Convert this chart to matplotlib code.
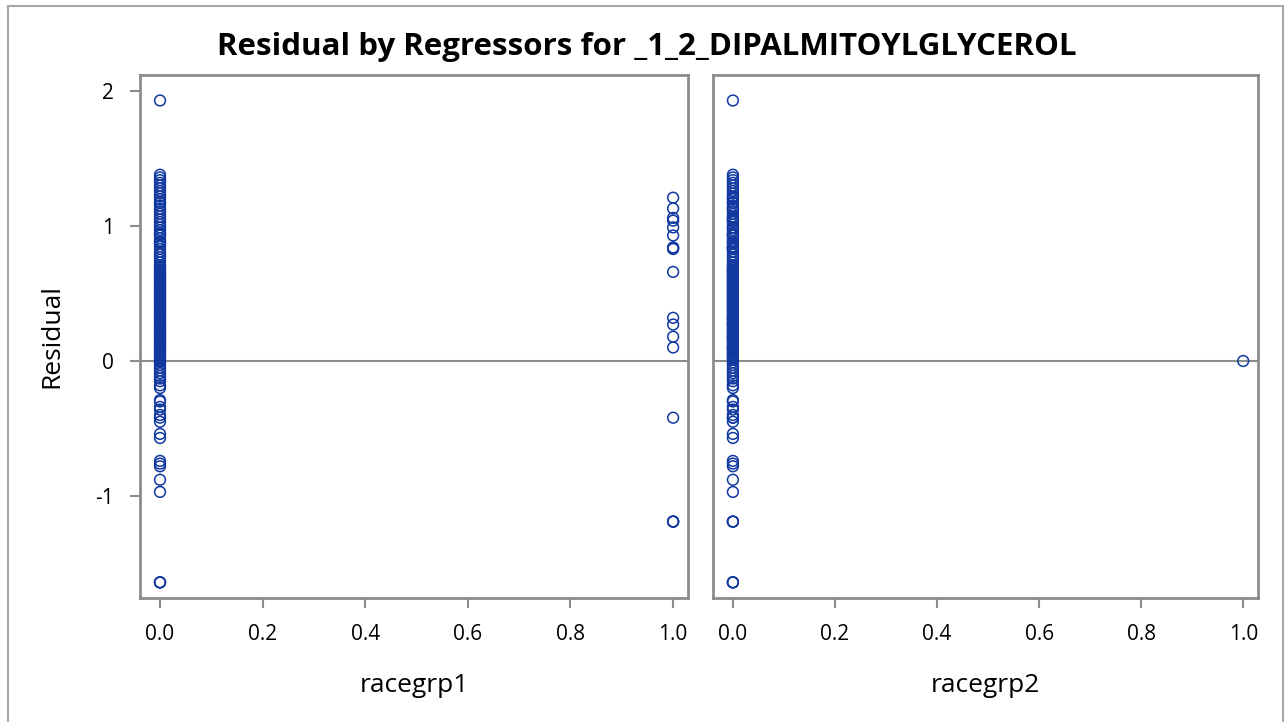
import matplotlib.pyplot as plt
from matplotlib.patches import Rectangle

plt.rcParams['font.family'] = ['Open Sans', 'DejaVu Sans']

# residuals where racegrp1 = 0 and racegrp2 = 0
resid_base = [1.93, 1.38, 1.36, 1.34, 1.32, 1.30, 1.28, 1.26, 1.24, 1.22, 1.20, 1.18,
              1.17, 1.15, 1.13, 1.11, 1.09, 1.07, 1.05, 1.03, 1.01, 0.99, 0.97, 0.95,
              0.93, 0.91, 0.89, 0.87, 0.85, 0.83, 0.81, 0.79, 0.77, 0.75, 0.73, 0.71,
              0.70, 0.68, 0.66, 0.64, 0.62, 0.60, 0.58, 0.56, 0.54, 0.52, 0.50, 0.48,
              0.46, 0.44, 0.42, 0.40, 0.38, 0.36, 0.34, 0.32, 0.30, 0.28, 0.26, 0.24,
              0.22, 0.20, 0.18, 0.16, 0.14, 0.12, 0.10, 0.08, 0.06, 0.04, 0.02, 0.01,
              0.69, 0.67, 0.63, 0.59, 0.55, 0.51, 0.47, 0.43, 0.39, 0.35, 0.31, 0.27,
              0.23, 0.19, 0.15, 0.11, 0.07, 0.03, 0.57, 0.45, 0.33, 0.21, 0.09, 0.05,
              0.61, 0.53, 0.41, 0.37, 0.29, 0.25, 0.17, 0.13, 0.65, 0.49, 0.94, 0.88,
              -0.01, -0.03, -0.05, -0.07, -0.09, -0.11, -0.13, -0.15, -0.18, -0.20,
              -0.29, -0.30, -0.34, -0.36, -0.40, -0.42, -0.45, -0.54, -0.57, -0.74,
              -0.76, -0.78, -0.88, -0.97, -1.64, -1.64, -1.64]
# residuals where racegrp1 = 1
resid_grp1 = [1.21, 1.13, 1.06, 1.04, 0.99, 0.93, 0.84, 0.84, 0.83, 0.66,
              0.32, 0.27, 0.18, 0.10, -0.42, -1.19, -1.19, -1.19]
# residuals where racegrp2 = 1
resid_grp2 = [0.0]

regressors = ['racegrp1', 'racegrp2']
x_ticks = [0.0, 0.2, 0.4, 0.6, 0.8, 1.0]
y_ticks = [-1, 0, 1, 2]

blue = '#1038a0'
gray = '#8c8c8c'

fig = plt.figure(figsize=(12.85, 7.22), dpi=100)
fig.patches.append(Rectangle((8 / 1285, -0.05), 1275 / 1285, 1.05 - 6 / 722,
                             transform=fig.transFigure, fill=False,
                             edgecolor='#a8a8a8', linewidth=1.5))

ax1 = fig.add_axes([140 / 1285, 1 - 598 / 722, 548 / 1285, 523 / 722])
ax2 = fig.add_axes([713 / 1285, 1 - 598 / 722, 545 / 1285, 523 / 722])

panels = [
    (ax1, resid_base + resid_grp2, resid_grp1),
    (ax2, resid_base + resid_grp1, resid_grp2),
]
for i, (ax, at0, at1) in enumerate(panels):
    ax.axhline(0, color=gray, linewidth=1.5, zorder=1)
    ax.scatter([0.0] * len(at0), at0, s=60, facecolors='none', edgecolors=blue,
               linewidths=1.1, zorder=3)
    ax.scatter([1.0] * len(at1), at1, s=60, facecolors='none', edgecolors=blue,
               linewidths=1.1, zorder=3)
    ax.set_xlim(-0.039, 1.029)
    ax.set_ylim(-1.756, 2.119)
    ax.set_xticks(x_ticks)
    ax.set_xticklabels(['%.1f' % t for t in x_ticks], fontsize=15)
    ax.set_xlabel(regressors[i], fontsize=19, labelpad=20)
    for s in ax.spines.values():
        s.set_color(gray)
        s.set_linewidth(2)
    ax.tick_params(color=gray, width=1.5, length=7, pad=12)
    if i == 0:
        ax.set_yticks(y_ticks)
        ax.set_yticklabels([str(t) for t in y_ticks], fontsize=15)
        ax.set_ylabel('Residual', fontsize=19, labelpad=22)
    else:
        ax.set_yticks([])

fig.text(0.5035, 1 - 47 / 722, 'Residual by Regressors for _1_2_DIPALMITOYLGLYCEROL',
         ha='center', va='center', fontsize=22.5, fontweight='bold')

plt.savefig('out.png', dpi=100)
